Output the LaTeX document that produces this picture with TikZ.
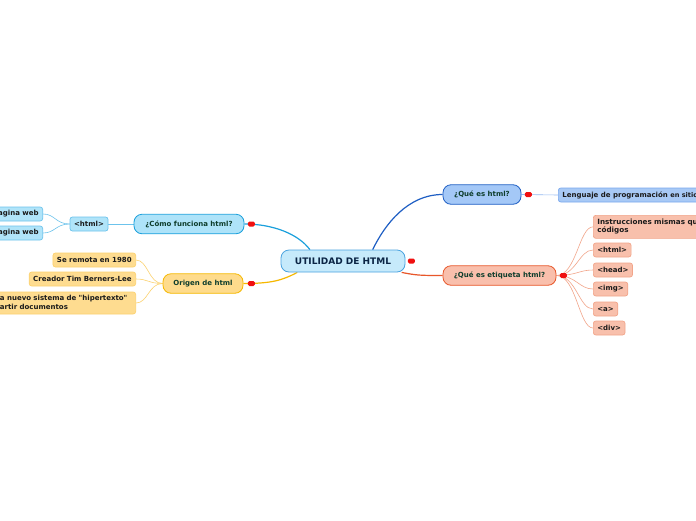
\documentclass[tikz,border=0pt]{standalone}
\usepackage{fontspec}
\setmainfont{DejaVu Sans}[Ligatures=TeXOff]
\usetikzlibrary{calc,backgrounds}
\definecolor{cenfill}{HTML}{C6EAFB}
\definecolor{cendraw}{HTML}{4AA3DF}
\definecolor{centext}{HTML}{0B2545}
\definecolor{quefill}{HTML}{A4C8F7}
\definecolor{quedraw}{HTML}{1F5FC4}
\definecolor{lenfill}{HTML}{A8C9F5}
\definecolor{lendraw}{HTML}{7AA8EE}
\definecolor{etifill}{HTML}{F9BFAC}
\definecolor{etidraw}{HTML}{E8572A}
\definecolor{etisub}{HTML}{F8C0AC}
\definecolor{etisubdraw}{HTML}{F2A58A}
\definecolor{comfill}{HTML}{AEE3F9}
\definecolor{comdraw}{HTML}{1BA0DC}
\definecolor{comsub}{HTML}{B0E4F9}
\definecolor{comsubdraw}{HTML}{6CC3EC}
\definecolor{orifill}{HTML}{FEDB8C}
\definecolor{oridraw}{HTML}{F6B800}
\definecolor{orisub}{HTML}{FEDC90}
\definecolor{orisubdraw}{HTML}{FCD270}
\definecolor{topictext}{HTML}{0E3D2C}
\definecolor{subtext}{HTML}{1A1A1A}
\definecolor{togglered}{HTML}{F01010}
\begin{document}
\begin{tikzpicture}[x=1pt,y=-1pt,
  mainbox/.style={rounded corners=8pt, line width=0.8pt, minimum width=124pt, minimum height=22pt,
    inner sep=0pt, fill=cenfill, draw=cendraw, text=centext, font=\bfseries\fontsize{9}{10}\selectfont},
  topic/.style={rounded corners=8pt, line width=0.8pt, minimum height=19.5pt, inner sep=0pt,
    text=topictext, font=\bfseries\fontsize{7}{8.5}\selectfont},
  subbox/.style={rounded corners=2.5pt, line width=0.7pt, minimum height=14pt, inner xsep=4pt, inner ysep=2pt,
    text=subtext, font=\bfseries\fontsize{7}{8.5}\selectfont},
  togglebox/.style={rounded corners=1.5pt, fill=togglered, minimum width=7pt, minimum height=5pt, inner sep=0pt},
  link/.style={line width=1.2pt},
  sublink/.style={line width=0.6pt}
]
\useasboundingbox (0,0) rectangle (696,520);
\clip (0,0) rectangle (696,520);

% central
\node[mainbox] (cen) at (343,261) {UTILIDAD DE HTML};

% right topics
\node[topic, fill=quefill, draw=quedraw, minimum width=78pt] (que) at (482,194.5) {¿Qué es html?};
\node[subbox, fill=lenfill, draw=lendraw, anchor=west, minimum width=150pt, align=left] (len) at (558,195)
  {Lenguaje de programación {\fontsize{6.6}{7}\selectfont\raisebox{-0.8pt}{en sitios web}}};
\node[topic, fill=etifill, draw=etidraw, minimum width=113pt] (eti) at (499.5,275.5) {¿Qué es etiqueta html?};

\node[subbox, fill=etisub, draw=etisubdraw, anchor=north west, text width=140pt, minimum height=23pt, align=left,
  font=\bfseries\fontsize{7.2}{8.3}\selectfont] (ins) at (593,215) {Instrucciones mismas que\\códigos};
\node[subbox, fill=etisub, draw=etisubdraw, anchor=west] (t1) at (593,250) {<html>};
\node[subbox, fill=etisub, draw=etisubdraw, anchor=west] (t2) at (593,270) {<head>};
\node[subbox, fill=etisub, draw=etisubdraw, anchor=west] (t3) at (593,289) {<img>};
\node[subbox, fill=etisub, draw=etisubdraw, anchor=west] (t4) at (593,309) {<a>};
\node[subbox, fill=etisub, draw=etisubdraw, anchor=west] (t5) at (593,328) {<div>};

% left topics
\node[topic, fill=comfill, draw=comdraw, minimum width=110pt] (com) at (189,224) {¿Cómo funciona html?};
\node[subbox, fill=comsub, draw=comsubdraw, minimum width=38pt] (htm) at (89,224) {<html>};
\node[subbox, fill=comsub, draw=comsubdraw, anchor=east] (p1) at (43,214) {Pagina web};
\node[subbox, fill=comsub, draw=comsubdraw, anchor=east] (p2) at (43,233) {Pagina web};

\node[topic, fill=orifill, draw=oridraw, minimum width=80pt] (ori) at (203,283.5) {Origen de html};
\node[subbox, fill=orisub, draw=orisubdraw, anchor=east] (o1) at (136,260) {Se remota en 1980};
\node[subbox, fill=orisub, draw=orisubdraw, anchor=east, align=left, minimum height=22pt, text width=145pt,
  font=\bfseries\fontsize{7}{8.3}\selectfont] (o3) at (136,303)
  {Crea nuevo sistema de "hipertexto"\\\hspace*{-8pt}compartir documentos};
\node[subbox, fill=orisub, draw=orisubdraw, anchor=east] (o2) at (136,279) {Creador Tim Berners-Lee};

\begin{scope}[on background layer]
\fill[white] (0,0) rectangle (696,520);
% main connectors
\draw[link, draw=quedraw] (cen.21) .. controls +(12,-25) and +(-35,0) .. (que.west);
\draw[link, draw=etidraw] (cen.349) .. controls +(15,3) and +(-22,0) .. (eti.west);
\draw[link, draw=comdraw] (cen.161) .. controls +(-12,-16) and +(28,0) .. (com.east);
\draw[link, draw=oridraw] (cen.194) .. controls +(-15,8) and +(28,0) .. (ori.east);
% sub connectors
\draw[sublink, draw=lendraw!80] (que.east) -- (len.west);
\foreach \c in {ins,t1,t2,t3,t4,t5}{
  \draw[sublink, draw=etisubdraw] (eti.east) .. controls +(20,0) and +(-14,0) .. (\c.west);
}
\draw[sublink, draw=comsubdraw] (com.west) -- (htm.east);
\foreach \c in {p1,p2}{
  \draw[sublink, draw=comsubdraw] (htm.west) .. controls +(-14,0) and +(12,0) .. (\c.east);
}
\foreach \c in {o1,o2,o3}{
  \draw[sublink, draw=orisubdraw] (ori.west) .. controls +(-14,0) and +(12,0) .. (\c.east);
}
\end{scope}

% toggles
\node[togglebox] (k0) at ($(cen.east)+(6,0)$) {};
\node[togglebox] (k1) at ($(que.east)+(7,0)$) {};
\node[togglebox] (k2) at ($(eti.east)+(7,0)$) {};
\node[togglebox] (k3) at ($(com.east)+(7,0)$) {};
\node[togglebox] (k4) at ($(ori.east)+(8,0)$) {};
\end{tikzpicture}
\end{document}
